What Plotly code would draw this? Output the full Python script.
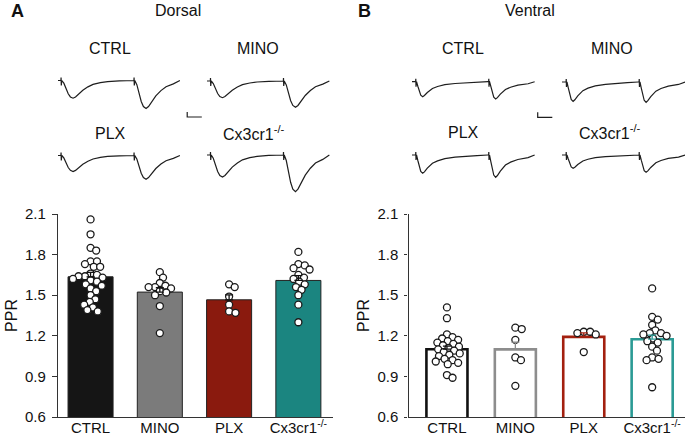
import plotly.graph_objects as go

W, H = 685, 437
FONT = "Liberation Sans, Arial, sans-serif"

# ---------------- data ----------------
GROUPS = ["CTRL", "MINO", "PLX", "Cx3cr1<sup>-/-</sup>"]

DORSAL_MEAN = [1.636, 1.523, 1.466, 1.609]
DORSAL_SEM = [0.032, 0.032, 0.036, 0.036]
DORSAL_CTRL = [2.06, 1.95, 1.85, 1.83, 1.75, 1.75, 1.73, 1.71, 1.71, 1.66, 1.65, 1.64, 1.64, 1.63,
               1.62, 1.61, 1.60, 1.58, 1.57, 1.55, 1.53, 1.50, 1.47, 1.45, 1.43, 1.41, 1.39, 1.38]
DORSAL_MINO = [1.67, 1.63, 1.59, 1.57, 1.56, 1.56, 1.55, 1.53, 1.52, 1.50, 1.42, 1.22]
DORSAL_PLX = [1.58, 1.56, 1.49, 1.43, 1.38, 1.37]
DORSAL_CX = [1.82, 1.73, 1.72, 1.70, 1.69, 1.65, 1.63, 1.62, 1.60, 1.58, 1.56, 1.54, 1.50, 1.43, 1.30]

VENTRAL_MEAN = [1.101, 1.100, 1.192, 1.175]
VENTRAL_SEM = [0.022, 0.054, 0.030, 0.030]
VENTRAL_CTRL = [1.41, 1.33, 1.21, 1.19, 1.18, 1.17, 1.16, 1.15, 1.14, 1.13, 1.12, 1.11, 1.10,
                1.09, 1.08, 1.07, 1.06, 1.05, 1.03, 1.02, 1.01, 1.00, 0.99, 0.91, 0.89]
VENTRAL_MINO = [1.26, 1.25, 1.17, 1.04, 1.02, 0.83]
VENTRAL_PLX = [1.23, 1.23, 1.22, 1.21, 1.08]
VENTRAL_CX = [1.55, 1.34, 1.32, 1.28, 1.24, 1.22, 1.22, 1.21, 1.20, 1.18, 1.16, 1.15, 1.12,
              1.09, 1.04, 1.03, 1.02, 0.82]

Y_TICKS = [0.6, 0.9, 1.2, 1.5, 1.8, 2.1]

# example traces: normalised EPSC waveform (ms after stimulus, fraction of peak)
SHAPE_T_DORSAL = [0.6, 2, 3.5, 5, 6.5, 8.3, 10, 12, 15, 18.5, 22, 27, 32, 40, 49.5]
SHAPE_V_DORSAL = [0, 0.15, 0.45, 0.75, 0.93, 1.0, 0.93, 0.78, 0.55, 0.36, 0.22, 0.12, 0.06, 0.02, 0]
SHAPE_T_VENTRAL = [0.6, 1.5, 2.5, 3.5, 4.8, 6, 8, 11.5, 15, 20, 27, 35, 42, 49.5]
SHAPE_V_VENTRAL = [0, 0.3, 0.65, 0.9, 1.0, 0.92, 0.72, 0.45, 0.32, 0.2, 0.12, 0.06, 0.03, 0]
ARTIFACT_T = [0, 0.1, 0.25, 0.4]
ARTIFACT_V = [0, 3, -5, 0]
PULSE_INTERVAL = 50
TRACE_END = 81.5
# peak amplitudes (1st, 2nd EPSC) of the example traces
DORSAL_AMP = [(17.7, 28.0), (16.7, 26.3), (16.0, 23.7), (22.0, 36.7)]
VENTRAL_AMP = [(15.0, 17.3), (19.3, 20.3), (18.3, 22.3), (13.3, 17.3)]
SCALE_MS = 10
SCALE_AMP = 5

# ---------------- styles ----------------
FILL_D = ["#151515", "#7b7b7b", "#8a1a0e", "#1b8580"]
LINE_V = ["#111111", "#8d8d8d", "#a3200f", "#2b9b95"]
ERR_V = ["#111111", "#8d8d8d", "#a3200f", "#2b9b95"]

fig = go.Figure()


def pxx(p):
    return p / W


def pxy(p):
    return 1 - p / H


def swarm(values, px_per_x, px_per_y, dmin=6.0):
    placed, out = [], []
    for v in values:
        y = v * px_per_y
        best = 0.0
        found = False
        for k in range(0, 60):
            for sgn in ([0] if k == 0 else [1, -1]):
                dx = sgn * k * 0.8
                if all((dx - a) ** 2 + (y - b) ** 2 >= dmin ** 2 for a, b in placed):
                    best, found = dx, True
                    break
            if found:
                break
        placed.append((best, y))
        out.append(best / px_per_x)
    return out


PX_PER_UNIT_Y = 203 / 1.5


def add_bars(xa, ya, means, sems, points, outlined, px_per_x):
    for i in range(4):
        if outlined:
            marker = dict(color="white", line=dict(color=LINE_V[i], width=2.6))
            width = 0.6
        else:
            marker = dict(color=FILL_D[i], line=dict(color="#222222", width=1))
            width = 0.65
        fig.add_trace(go.Bar(
            x=[i], y=[means[i]], width=width, marker=marker, xaxis=xa, yaxis=ya,
            hoverinfo="skip", showlegend=False))
    for i, vals in enumerate(points):
        offs = swarm(vals, px_per_x, PX_PER_UNIT_Y)
        fig.add_trace(go.Scatter(
            x=[i + o for o in offs], y=vals, mode="markers", xaxis=xa, yaxis=ya,
            marker=dict(size=7, color="white", line=dict(color="#1a1a1a", width=1.3)),
            showlegend=False, hoverinfo="skip"))
    # SEM error bars drawn on top
    for i in range(4):
        ecol = ERR_V[i] if outlined else "#111111"
        fig.add_trace(go.Scatter(
            x=[i], y=[means[i]], mode="markers", xaxis=xa, yaxis=ya,
            marker=dict(size=1, color="rgba(0,0,0,0)"),
            error_y=dict(type="data", array=[sems[i]], arrayminus=[0], symmetric=False,
                         color=ecol, thickness=1.3, width=4),
            showlegend=False, hoverinfo="skip"))


add_bars("x", "y", DORSAL_MEAN, DORSAL_SEM,
         [DORSAL_CTRL, DORSAL_MINO, DORSAL_PLX, DORSAL_CX], False, 69.2)
add_bars("x2", "y2", VENTRAL_MEAN, VENTRAL_SEM,
         [VENTRAL_CTRL, VENTRAL_MINO, VENTRAL_PLX, VENTRAL_CX], True, 68.5)


def build_trace(amps, st, sv):
    t, v = [-3.0], [0.0]
    for k, a in enumerate(amps):
        s = k * PULSE_INTERVAL
        for at, av in zip(ARTIFACT_T, ARTIFACT_V):
            t.append(s + at)
            v.append(av)
        for rt, rv in zip(st, sv):
            if s + rt <= TRACE_END:
                t.append(s + rt)
                v.append(-a * rv)
    if t[-1] < TRACE_END:
        t.append(TRACE_END)
        v.append(0.0)
    return t, v


# trace panel placement: (x0_px, x1_px, baseline_px, t_start)
PX_PER_MS = 1.46
TRACE_POS_D = [(58, 203, 80.5, -2.0), (207, 330, 81, -2.3), (58, 181, 155.5, -2.0), (207, 330, 155, -2.3)]
TRACE_POS_V = [(412, 557, 81.7, -2.5), (562, 685, 82, -2.8), (412, 535, 155, -2.5), (562, 685, 155, -2.8)]

layout_axes = {}
ax_n = 3
for panel, (pos_list, amps_list, st, sv) in enumerate([
        (TRACE_POS_D, DORSAL_AMP, SHAPE_T_DORSAL, SHAPE_V_DORSAL),
        (TRACE_POS_V, VENTRAL_AMP, SHAPE_T_VENTRAL, SHAPE_V_VENTRAL)]):
    for j, ((x0, x1, base, t0), amps) in enumerate(zip(pos_list, amps_list)):
        t, v = build_trace(amps, st, sv)
        xa, ya = f"x{ax_n}", f"y{ax_n}"
        fig.add_trace(go.Scatter(x=t, y=v, mode="lines", xaxis=xa, yaxis=ya,
                                 line=dict(color="#1e1e1e", width=1.2),
                                 showlegend=False, hoverinfo="skip"))
        if j == 0:
            # scale bar
            sx = 86.5 if panel == 0 else 83.6
            sy = -36.5 if panel == 0 else -35.6
            fig.add_trace(go.Scatter(x=[sx, sx, sx + SCALE_MS], y=[sy + SCALE_AMP, sy, sy],
                                     mode="lines", xaxis=xa, yaxis=ya,
                                     line=dict(color="#1e1e1e", width=1.2),
                                     showlegend=False, hoverinfo="skip"))
        x1c = min(x1, W)
        layout_axes[f"xaxis{ax_n}"] = dict(domain=[pxx(x0), pxx(x1c)],
                                           range=[t0, t0 + (x1c - x0) / PX_PER_MS],
                                           visible=False, anchor=ya, automargin=False)
        layout_axes[f"yaxis{ax_n}"] = dict(domain=[pxy(base + 40), pxy(base - 8)],
                                           range=[-40, 8], visible=False, anchor=xa,
                                           automargin=False)
        ax_n += 1

tickfont = dict(family=FONT, size=15, color="#111111")


def xaxis_cfg(d0, d1, r0, r1, anchor):
    return dict(domain=[pxx(d0), pxx(d1)], range=[r0, r1], anchor=anchor,
                tickvals=[0, 1, 2, 3], ticktext=GROUPS, ticks="", showline=True,
                linecolor="#333333", linewidth=1.2, showgrid=False, zeroline=False,
                tickfont=tickfont, automargin=False, ticklabelstandoff=-3)


def yaxis_cfg(anchor, ticklen):
    return dict(domain=[pxy(417), pxy(214)], range=[0.6, 2.1], anchor=anchor,
                tickvals=Y_TICKS, ticktext=[f"{v:.1f}" for v in Y_TICKS],
                ticks="outside", ticklen=ticklen, tickcolor="#333333", tickwidth=1.2,
                showline=True, linecolor="#333333", linewidth=1.2, showgrid=False,
                zeroline=False, tickfont=tickfont, ticklabelstandoff=3, automargin=False,
                title=dict(text="PPR", font=dict(family=FONT, size=16, color="#111111"),
                           standoff=3))


layout_axes["xaxis"] = xaxis_cfg(58, 333, -0.47, 3.50, "y")
layout_axes["yaxis"] = yaxis_cfg("x", 5)
layout_axes["xaxis2"] = xaxis_cfg(408.5, 685, -0.562, 3.48, "y2")
layout_axes["yaxis2"] = yaxis_cfg("x2", 3)

annotations = []


def ann(text, x, y, size, bold=False):
    annotations.append(dict(text=f"<b>{text}</b>" if bold else text, x=pxx(x), y=pxy(y),
                            xref="paper", yref="paper", showarrow=False,
                            xanchor="center", yanchor="middle",
                            font=dict(family=FONT, size=size, color="#111111")))


ann("A", 17, 11, 18, bold=True)
ann("Dorsal", 178, 10, 16)
ann("B", 364, 11, 18, bold=True)
ann("Ventral", 530, 10, 16)
TRACE_LABEL_POS_D = [(110, 49), (258, 49), (110, 133), (254, 133)]
TRACE_LABEL_POS_V = [(463, 49), (612, 49), (463, 132), (610, 132)]
for (lx, ly), g in zip(TRACE_LABEL_POS_D, GROUPS):
    ann(g, lx, ly, 16)
for (lx, ly), g in zip(TRACE_LABEL_POS_V, GROUPS):
    ann(g, lx, ly, 16)

fig.update_layout(template="none", width=W, height=H, autosize=False,
                  margin=dict(l=0, r=0, t=0, b=0, pad=0),
                  paper_bgcolor="white", plot_bgcolor="white", showlegend=False,
                  barmode="overlay", annotations=annotations, **layout_axes)

fig.write_html("out.html", config={"displayModeBar": False, "responsive": False},
               post_script="document.body.style.margin='0';document.body.style.overflow='hidden';")
